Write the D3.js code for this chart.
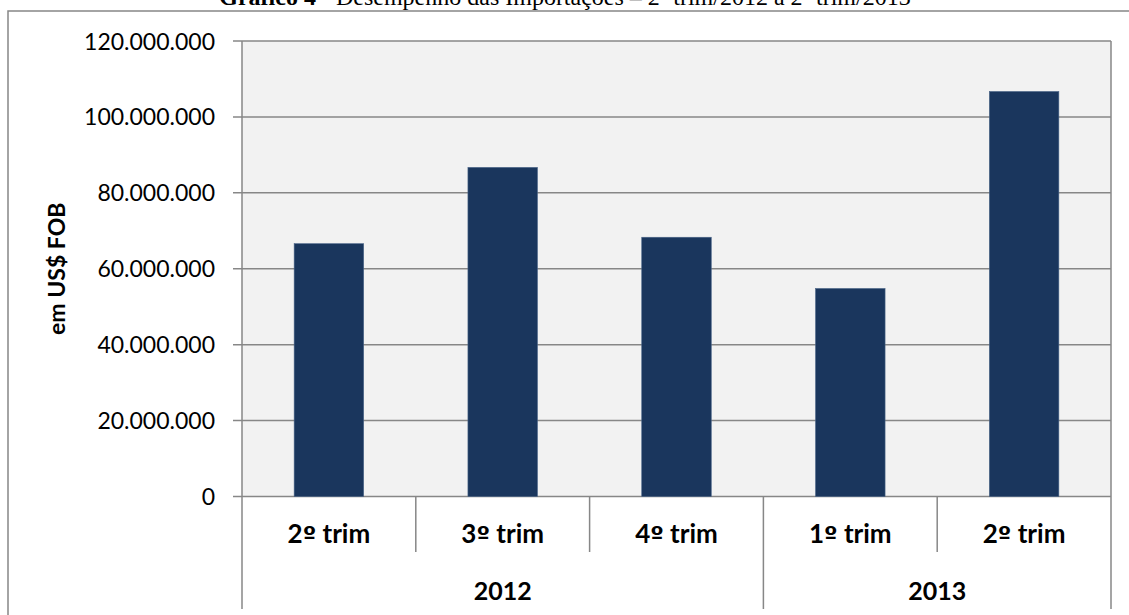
<!DOCTYPE html>
<html>
<head>
<meta charset="utf-8">
<script src="https://cdn.jsdelivr.net/npm/d3@7"></script>
<style>
  html, body { margin: 0; padding: 0; background: #ffffff; }
  svg { display: block; }
</style>
</head>
<body>
<svg id="chart" width="1129" height="615"></svg>
<script>
// ---- data ----
const quarters = ["2º trim", "3º trim", "4º trim", "1º trim", "2º trim"];
const years = ["2012", "2012", "2012", "2013", "2013"];
const values = [66600000, 86700000, 68300000, 54800000, 106700000];
const yTicks = [0, 20000000, 40000000, 60000000, 80000000, 100000000, 120000000];
const yTitle = "em US$ FOB";
const titleBold = "Gráfico 4";
const titleRest = " - Desempenho das Importações – 2º trim/2012 a 2º trim/2013";

// ---- layout ----
const W = 1129, H = 615;
const plot = { left: 242, right: 1111, top: 41, bottom: 496.5 };
const gridColor = "#878787";
const barColor = "#1a365d";
const font = "Lato, 'Open Sans', sans-serif";

const svg = d3.select("#chart");

// outer chart frame
svg.append("rect")
  .attr("x", 8).attr("y", 11)
  .attr("width", W + 20).attr("height", H + 20)
  .attr("fill", "#ffffff")
  .attr("stroke", gridColor).attr("stroke-width", 1.5);

// title (partially cut at top, as in the reference)
const title = svg.append("text")
  .attr("x", 565).attr("y", 5)
  .attr("text-anchor", "middle")
  .attr("font-family", "'Liberation Serif', 'Times New Roman', serif")
  .attr("font-size", 24)
  .attr("fill", "#000");
title.append("tspan").attr("font-weight", "bold").text(titleBold);
title.append("tspan").text(titleRest);

// scales
const x = d3.scaleBand()
  .domain(d3.range(values.length))
  .range([plot.left, plot.right])
  .padding(0);
const y = d3.scaleLinear()
  .domain([0, 120000000])
  .range([plot.bottom, plot.top]);

const locale = d3.formatLocale({ decimal: ",", thousands: ".", grouping: [3], currency: ["", ""] });
const fmt = locale.format(",");

// plot background
svg.append("rect")
  .attr("x", plot.left).attr("y", plot.top)
  .attr("width", plot.right - plot.left)
  .attr("height", plot.bottom - plot.top)
  .attr("fill", "#f2f2f2");

// gridlines
svg.append("g")
  .selectAll("line")
  .data(yTicks)
  .join("line")
  .attr("x1", plot.left - 9).attr("x2", plot.right)
  .attr("y1", d => y(d)).attr("y2", d => y(d))
  .attr("stroke", gridColor).attr("stroke-width", 1.5);

// y axis line
svg.append("line")
  .attr("x1", plot.left).attr("x2", plot.left)
  .attr("y1", plot.top).attr("y2", 609)
  .attr("stroke", gridColor).attr("stroke-width", 1.5);

// right border of plot, extending into category area
svg.append("line")
  .attr("x1", plot.right).attr("x2", plot.right)
  .attr("y1", plot.top).attr("y2", 609)
  .attr("stroke", gridColor).attr("stroke-width", 1.5);

// y tick labels
svg.append("g")
  .selectAll("text")
  .data(yTicks)
  .join("text")
  .attr("x", 215)
  .attr("y", d => y(d) + 8.5)
  .attr("text-anchor", "end")
  .attr("font-family", font)
  .attr("font-size", 23)
  .attr("fill", "#000")
  .text(d => fmt(d));

// y axis title
svg.append("text")
  .attr("transform", `translate(65, ${(plot.top + plot.bottom) / 2}) rotate(-90)`)
  .attr("text-anchor", "middle")
  .attr("font-family", font)
  .attr("font-weight", "bold")
  .attr("font-size", 23)
  .attr("fill", "#000")
  .text(yTitle);

// bars
const barW = x.bandwidth() * 0.4;
svg.append("g")
  .selectAll("rect")
  .data(values)
  .join("rect")
  .attr("x", (d, i) => x(i) + (x.bandwidth() - barW) / 2)
  .attr("y", d => y(d))
  .attr("width", barW)
  .attr("height", d => y(0) - y(d))
  .attr("fill", barColor)
  .attr("stroke", "#4a6488").attr("stroke-width", 0.6);

// category dividers
const yearStarts = years.map((yr, i) => i > 0 && yr !== years[i - 1]);
svg.append("g")
  .selectAll("line")
  .data(d3.range(1, values.length))
  .join("line")
  .attr("x1", i => x(i)).attr("x2", i => x(i))
  .attr("y1", plot.bottom)
  .attr("y2", i => yearStarts[i] ? 609 : 552)
  .attr("stroke", gridColor).attr("stroke-width", 1.5);

// quarter labels (ordinal indicator in a font that draws it underlined)
const ql = svg.append("g")
  .selectAll("text")
  .data(quarters)
  .join("text")
  .attr("x", (d, i) => x(i) + x.bandwidth() / 2)
  .attr("y", 543)
  .attr("text-anchor", "middle")
  .attr("font-family", font)
  .attr("font-weight", "bold")
  .attr("font-size", 26)
  .attr("fill", "#000");
ql.each(function(d) {
  const t = d3.select(this);
  const k = d.indexOf("º");
  t.append("tspan").text(d.slice(0, k));
  t.append("tspan").attr("font-family", "'DejaVu Sans', sans-serif").attr("font-size", 24).text("º");
  t.append("tspan").text(d.slice(k + 1));
});

// year labels
const groups = d3.groups(years.map((yr, i) => ({ yr, i })), d => d.yr)
  .map(([yr, arr]) => ({ yr, first: arr[0].i, last: arr[arr.length - 1].i }));
svg.append("g")
  .selectAll("text")
  .data(groups)
  .join("text")
  .attr("x", g => (x(g.first) + x(g.last) + x.bandwidth()) / 2)
  .attr("y", 600)
  .attr("text-anchor", "middle")
  .attr("font-family", font)
  .attr("font-weight", "bold")
  .attr("font-size", 25)
  .attr("fill", "#000")
  .text(g => g.yr);
</script>
</body>
</html>
